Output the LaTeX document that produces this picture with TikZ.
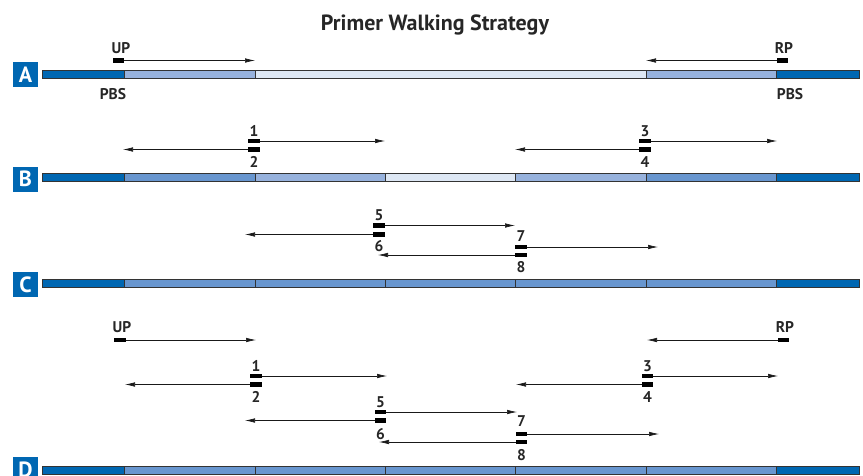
\documentclass[tikz,border=0pt]{standalone}
\usepackage{fontspec}
\setmainfont{PT Sans}
\usetikzlibrary{arrows.meta}
\definecolor{bdark}{HTML}{0067B2}
\definecolor{bmed}{HTML}{6896CF}
\definecolor{blm}{HTML}{97B2DD}
\definecolor{bvl}{HTML}{DDE7F4}
\definecolor{outl}{HTML}{333333}
\tikzset{
  primer/.style={fill=black,draw=none,minimum width=11.5pt,minimum height=4.5pt,inner sep=0pt,outer sep=0pt},
  arr/.style={-{Latex[length=10pt,width=4.5pt]},line width=0.6pt,black!90},
  lbl/.style={font=\bfseries\fontsize{15.5}{15.5}\selectfont,inner sep=0pt,text=black!85},
  rowlbl/.style={fill=bdark,text=white,minimum width=25pt,minimum height=25pt,inner sep=0pt,font=\bfseries\fontsize{22}{22}\selectfont},
  seg/.style={draw=outl,line width=0.8pt},
  title/.style={font=\bfseries\fontsize{22}{22}\selectfont,inner sep=0pt,anchor=base,text=black!85}
}
\begin{document}
\begin{tikzpicture}[x=1pt,y=-1pt]
\useasboundingbox (0,0) rectangle (863,475);
\clip (0,0) rectangle (863,475);
% title
\node[title] (title) at (435,30) {Primer Walking Strategy};
% bars: boundaries 42,124,255,385,515,646,776,859
\def\bnds{42/124/bdark,124/255/blm,255/646/bvl,646/776/blm,776/859/bdark}
\foreach \a/\b/\c in \bnds {\draw[seg,fill=\c] (\a,70) rectangle (\b,78);}
\foreach \a/\b/\c in {42/124/bdark,124/255/bmed,255/385/blm,385/515/bvl,515/646/blm,646/776/bmed,776/859/bdark}
  {\draw[seg,fill=\c] (\a,173) rectangle (\b,181);}
\foreach \a/\b/\c in {42/124/bdark,124/255/bmed,255/385/bmed,385/515/bmed,515/646/bmed,646/776/bmed,776/859/bdark}
  {\draw[seg,fill=\c] (\a,279) rectangle (\b,287);
   \draw[seg,fill=\c] (\a,466) rectangle (\b,474);}
% row labels
\node[rowlbl] (lA) at (25.5,74.5) {A};
\node[rowlbl] (lB) at (25.5,179) {B};
\node[rowlbl] (lC) at (25.5,284.5) {C};
\node[rowlbl] (lD) at (25.5,469.5) {D};
% ---- Row A
\node[primer] (aUP) at (118.5,60.5) {};
\coordinate (aUPe) at (255,60.5);
\draw[arr] (aUP.east) -- (aUPe);
\node[lbl] (aUPl) at (121,48) {UP};
\node[primer] (aRP) at (782.5,60.5) {};
\coordinate (aRPe) at (646,60.5);
\draw[arr] (aRP.west) -- (aRPe);
\node[lbl] (aRPl) at (784,48) {RP};
\node[lbl] (pbs1) at (113,94) {PBS};
\node[lbl] (pbs2) at (790,94) {PBS};
% ---- Row B
\node[primer] (b1) at (254,141) {};
\node[primer] (b2) at (254,149.5) {};
\coordinate (b1e) at (385,141);
\coordinate (b2e) at (123,149.5);
\draw[arr] (b1.east) -- (b1e);
\draw[arr] (b2.west) -- (b2e);
\node[lbl] (b1l) at (254,131) {1};
\node[lbl] (b2l) at (254,162) {2};
\node[primer] (b3) at (645,141) {};
\node[primer] (b4) at (645,149.5) {};
\coordinate (b3e) at (777,141);
\coordinate (b4e) at (515,149.5);
\draw[arr] (b3.east) -- (b3e);
\draw[arr] (b4.west) -- (b4e);
\node[lbl] (b3l) at (645,131) {3};
\node[lbl] (b4l) at (645,162) {4};
% ---- Row C
\node[primer] (c5) at (379,225.5) {};
\node[primer] (c6) at (379,234.5) {};
\coordinate (c5e) at (515,225.5);
\coordinate (c6e) at (245,234.5);
\draw[arr] (c5.east) -- (c5e);
\draw[arr] (c6.west) -- (c6e);
\node[lbl] (c5l) at (379,215) {5};
\node[lbl] (c6l) at (379,246) {6};
\node[primer] (c7) at (521,247) {};
\node[primer] (c8) at (521,255) {};
\coordinate (c7e) at (658,247);
\coordinate (c8e) at (378,255);
\draw[arr] (c7.east) -- (c7e);
\draw[arr] (c8.west) -- (c8e);
\node[lbl] (c7l) at (521,236) {7};
\node[lbl] (c8l) at (521,267) {8};
% ---- Row D
\node[primer] (dUP) at (120,340) {};
\coordinate (dUPe) at (256,340);
\draw[arr] (dUP.east) -- (dUPe);
\node[lbl] (dUPl) at (122,327) {UP};
\node[primer] (dRP) at (783.5,340) {};
\coordinate (dRPe) at (647,340);
\draw[arr] (dRP.west) -- (dRPe);
\node[lbl] (dRPl) at (785,327) {RP};
\node[primer] (d1) at (256,376) {};
\node[primer] (d2) at (256,384.5) {};
\coordinate (d1e) at (387,376);
\coordinate (d2e) at (125,384.5);
\draw[arr] (d1.east) -- (d1e);
\draw[arr] (d2.west) -- (d2e);
\node[lbl] (d1l) at (256,366) {1};
\node[lbl] (d2l) at (256,397) {2};
\node[primer] (d3) at (647.5,376) {};
\node[primer] (d4) at (647.5,384.5) {};
\coordinate (d3e) at (778,376);
\coordinate (d4e) at (516,384.5);
\draw[arr] (d3.east) -- (d3e);
\draw[arr] (d4.west) -- (d4e);
\node[lbl] (d3l) at (647.5,366) {3};
\node[lbl] (d4l) at (647.5,397) {4};
\node[primer] (d5) at (380.5,412) {};
\node[primer] (d6) at (380.5,420.5) {};
\coordinate (d5e) at (517,412);
\coordinate (d6e) at (245,420.5);
\draw[arr] (d5.east) -- (d5e);
\draw[arr] (d6.west) -- (d6e);
\node[lbl] (d5l) at (380.5,402) {5};
\node[lbl] (d6l) at (380.5,434) {6};
\node[primer] (d7) at (521.5,434) {};
\node[primer] (d8) at (521.5,442) {};
\coordinate (d7e) at (659,434);
\coordinate (d8e) at (379,442);
\draw[arr] (d7.east) -- (d7e);
\draw[arr] (d8.west) -- (d8e);
\node[lbl] (d7l) at (521.5,421) {7};
\node[lbl] (d8l) at (521.5,455) {8};
\end{tikzpicture}
\end{document}
